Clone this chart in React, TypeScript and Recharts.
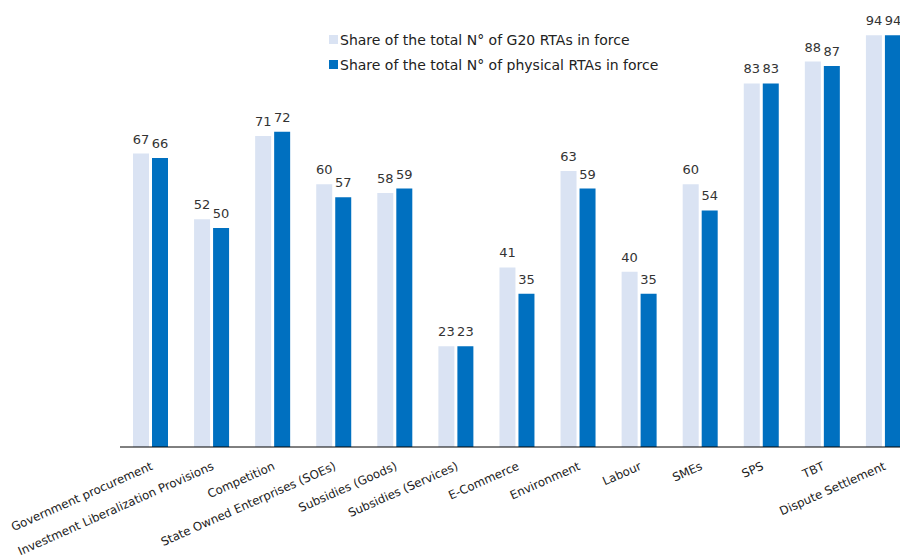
import { Bar, BarChart, LabelList, XAxis, YAxis } from "recharts";

const CATEGORIES = [
  "Government procurement",
  "Investment Liberalization Provisions",
  "Competition",
  "State Owned Enterprises (SOEs)",
  "Subsidies (Goods)",
  "Subsidies (Services)",
  "E-Commerce",
  "Environment",
  "Labour",
  "SMEs",
  "SPS",
  "TBT",
  "Dispute Settlement",
];

const G20_SHARE = [67, 52, 71, 60, 58, 23, 41, 63, 40, 60, 83, 88, 94];
const PHYSICAL_SHARE = [66, 50, 72, 57, 59, 23, 35, 59, 35, 54, 83, 87, 94];

const G20_LABEL = "Share of the total N° of G20 RTAs in force";
const PHYSICAL_LABEL = "Share of the total N° of physical RTAs in force";

const LIGHT = "#dae3f3";
const DARK = "#0070c0";
const FONT = "'DejaVu Sans', Verdana, sans-serif";

const data = CATEGORIES.map((name, i) => ({
  name,
  g20: G20_SHARE[i],
  physical: PHYSICAL_SHARE[i],
}));

function SlantedTick(props: any) {
  const { x, y, payload } = props;
  return (
    <g transform={`translate(${x + 3},${y + 22})`}>
      <text
        x={0}
        y={0}
        textAnchor="end"
        transform="rotate(-24)"
        fill="#222"
        fontSize={11.8}
        fontFamily={FONT}
      >
        {payload.value}
      </text>
    </g>
  );
}

function LegendBox() {
  const items = [
    { label: G20_LABEL, color: LIGHT },
    { label: PHYSICAL_LABEL, color: DARK },
  ];
  return (
    <div
      style={{
        position: "absolute",
        left: 329,
        top: 27,
        fontFamily: FONT,
        fontSize: 14,
        color: "#222",
      }}
    >
      {items.map((it) => (
        <div
          key={it.label}
          style={{ display: "flex", alignItems: "center", height: 25 }}
        >
          <span
            style={{
              display: "inline-block",
              width: 9,
              height: 9,
              background: it.color,
              marginRight: 2,
            }}
          />
          <span>{it.label}</span>
        </div>
      ))}
    </div>
  );
}

export default function App() {
  return (
    <div
      style={{
        position: "fixed",
        left: 0,
        top: 0,
        width: 900,
        height: 557,
        overflow: "hidden",
        background: "#fff",
      }}
    >
      <BarChart
        width={914}
        height={557}
        data={data}
        margin={{ top: 9, right: 0, bottom: 0, left: 120 }}
        barSize={16}
        barGap={3}
      >
        <YAxis hide domain={[0, 100]} />
        <XAxis
          dataKey="name"
          interval={0}
          height={110}
          tickLine={false}
          tickSize={0}
          tickMargin={0}
          axisLine={{ stroke: "#000", strokeWidth: 1 }}
          tick={<SlantedTick />}
        />
        <Bar dataKey="g20" name={G20_LABEL} fill={LIGHT} isAnimationActive={false}>
          <LabelList
            dataKey="g20"
            position="top"
            offset={10}
            fill="#333"
            fontSize={13}
            fontFamily={FONT}
          />
        </Bar>
        <Bar
          dataKey="physical"
          name={PHYSICAL_LABEL}
          fill={DARK}
          isAnimationActive={false}
        >
          <LabelList
            dataKey="physical"
            position="top"
            offset={10}
            fill="#333"
            fontSize={13}
            fontFamily={FONT}
          />
        </Bar>
      </BarChart>
      <LegendBox />
    </div>
  );
}
